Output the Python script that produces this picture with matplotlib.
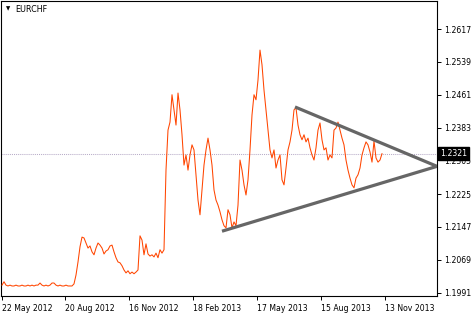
import numpy as np
import matplotlib.pyplot as plt

# EURCHF daily closes (one every 2 bars)
closes = [
    1.2009, 1.2017, 1.2009, 1.2007, 1.2009, 1.2007, 1.2007, 1.2009, 1.2007, 1.2007,
    1.2009, 1.2007, 1.2007, 1.2009, 1.2007, 1.2009, 1.2007, 1.2009, 1.2009, 1.2014,
    1.2009, 1.2007, 1.2009, 1.2007, 1.2009, 1.2014, 1.2014, 1.2009, 1.2007, 1.2009,
    1.2007, 1.2007, 1.2009, 1.2007, 1.2007, 1.2007, 1.2012, 1.2033, 1.2064, 1.2100,
    1.2123, 1.2121, 1.2109, 1.2097, 1.2102, 1.2088, 1.2081, 1.2097, 1.2109, 1.2104,
    1.2097, 1.2083, 1.2090, 1.2093, 1.2102, 1.2104, 1.2088, 1.2074, 1.2064, 1.2062,
    1.2055, 1.2045, 1.2038, 1.2043, 1.2036, 1.2040, 1.2036, 1.2040, 1.2045, 1.2126,
    1.2116, 1.2081, 1.2107, 1.2083, 1.2078, 1.2081, 1.2076, 1.2085, 1.2074, 1.2093,
    1.2085, 1.2093, 1.2282, 1.2377, 1.2396, 1.2461, 1.2425, 1.2389, 1.2465, 1.2425,
    1.2366, 1.2294, 1.2318, 1.2282, 1.2318, 1.2342, 1.2330, 1.2271, 1.2211, 1.2176,
    1.2235, 1.2294, 1.2330, 1.2358, 1.2330, 1.2294, 1.2235, 1.2211, 1.2199, 1.2183,
    1.2164, 1.2150, 1.2145, 1.2188, 1.2176, 1.2145, 1.2159, 1.2150, 1.2199, 1.2306,
    1.2282, 1.2247, 1.2223, 1.2259, 1.2330, 1.2413, 1.2461, 1.2449, 1.2496, 1.2567,
    1.2532, 1.2472, 1.2425, 1.2377, 1.2330, 1.2311, 1.2330, 1.2287, 1.2306, 1.2318,
    1.2259, 1.2247, 1.2287, 1.2330, 1.2349, 1.2377, 1.2425, 1.2430, 1.2389, 1.2366,
    1.2354, 1.2366, 1.2349, 1.2358, 1.2335, 1.2318, 1.2306, 1.2335, 1.2377, 1.2394,
    1.2354, 1.2330, 1.2335, 1.2306, 1.2318, 1.2311, 1.2377, 1.2382, 1.2396, 1.2377,
    1.2358, 1.2342, 1.2306, 1.2282, 1.2263, 1.2247, 1.2240, 1.2263, 1.2271, 1.2287,
    1.2318, 1.2335, 1.2349, 1.2342, 1.2325, 1.2301, 1.2351, 1.2311, 1.2301, 1.2306,
    1.2321,
]
bars = np.arange(len(closes)) * 2

# triangle trendlines (bar index, price)
upper_line_bars = [293, 435]
upper_line_prices = [1.2432, 1.2291]
lower_line_bars = [220, 435]
lower_line_prices = [1.2137, 1.2291]

ytick_values = [1.1991, 1.2069, 1.2147, 1.2225, 1.2305, 1.2383, 1.2461, 1.2539, 1.2617]
xtick_bars = [0, 63, 127, 191, 255, 319, 383]
xtick_labels = ['22 May 2012', '20 Aug 2012', '16 Nov 2012', '18 Feb 2013',
                '17 May 2013', '15 Aug 2013', '13 Nov 2013']
last_price = 1.2321

plt.rcParams['font.family'] = 'DejaVu Sans'
fig = plt.figure(figsize=(4.71, 3.13), dpi=100)
ax = fig.add_axes([1/471, 17/313, 436/471, 295/313])

ax.plot(bars, closes, color='#ff4500', lw=0.75, zorder=3)
ax.axhline(last_price, color='#b8acc8', ls=(0, (1, 1)), lw=0.75, zorder=2)
ax.plot(upper_line_bars, upper_line_prices, color='#666666', lw=2.3,
        solid_capstyle='butt', zorder=4)
ax.plot(lower_line_bars, lower_line_prices, color='#666666', lw=2.3,
        solid_capstyle='butt', zorder=4)

ax.set_xlim(-1, 435)
ax.set_ylim(1.19832, 1.26835)

ax.yaxis.tick_right()
ax.set_yticks(ytick_values)
ax.set_yticklabels([f'{v:.4f}' for v in ytick_values])
ax.set_xticks(xtick_bars)
ax.set_xticklabels(xtick_labels, ha='left')
ax.tick_params(axis='both', direction='out', length=3, width=0.7,
               labelsize=5.6, colors='black', pad=2)
ax.tick_params(axis='x', pad=2.5)
for s in ax.spines.values():
    s.set_color('black')
    s.set_linewidth(0.8)

# symbol title
ax.text(0.012, 0.972, '\u25bc', transform=ax.transAxes, fontsize=4,
        va='center', ha='left')
ax.text(0.032, 0.972, 'EURCHF', transform=ax.transAxes, fontsize=5.8,
        va='center', ha='left')

# last price box on the axis
ax.annotate(f'{last_price:.4f}', xy=(1, last_price),
            xycoords=('axes fraction', 'data'), xytext=(2, 0),
            textcoords='offset points', va='center', ha='left',
            fontsize=5.6, color='white', annotation_clip=False,
            bbox=dict(boxstyle='square,pad=0.25', fc='black', ec='black'))

plt.savefig('out.png', dpi=100)
